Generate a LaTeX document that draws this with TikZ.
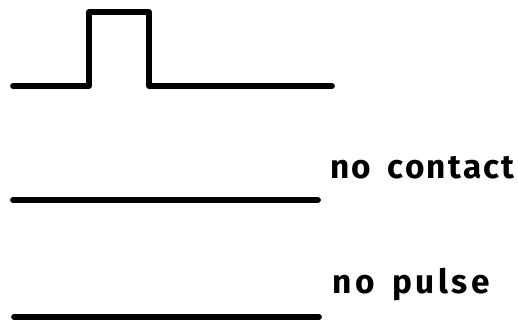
\documentclass[tikz,border=0pt]{standalone}
\usepackage{fontspec}
\setmainfont{Fira Sans}
\tikzset{
  trace/.style={line width=3.3pt,line cap=round,line join=round},
  label/.style={anchor=base west,inner sep=0pt,font=\fontsize{19}{20}\selectfont\bfseries}
}
\begin{document}
\begin{tikzpicture}[x=0.02cm,y=-0.02cm]
\useasboundingbox (0,0) rectangle (518,322);
\draw[trace] (13,86) -- (89,86) -- (89,12) -- (149,12) -- (149,86) -- (332,86);
\draw[trace] (13,200) -- (318,200);
\draw[trace] (14,317) -- (319,317);
\node[label] (nocontact) at (330,178) {n\kern1.2pt o\kern9pt c\kern1.2pt o\kern1.2pt n\kern1.2pt t\kern1.2pt a\kern1.2pt c\kern1.2pt t};
\node[label] (nopulse) at (332,293) {n\kern2pt o\kern10pt p\kern2pt u\kern2pt l\kern2pt s\kern2pt e};
\end{tikzpicture}
\end{document}
